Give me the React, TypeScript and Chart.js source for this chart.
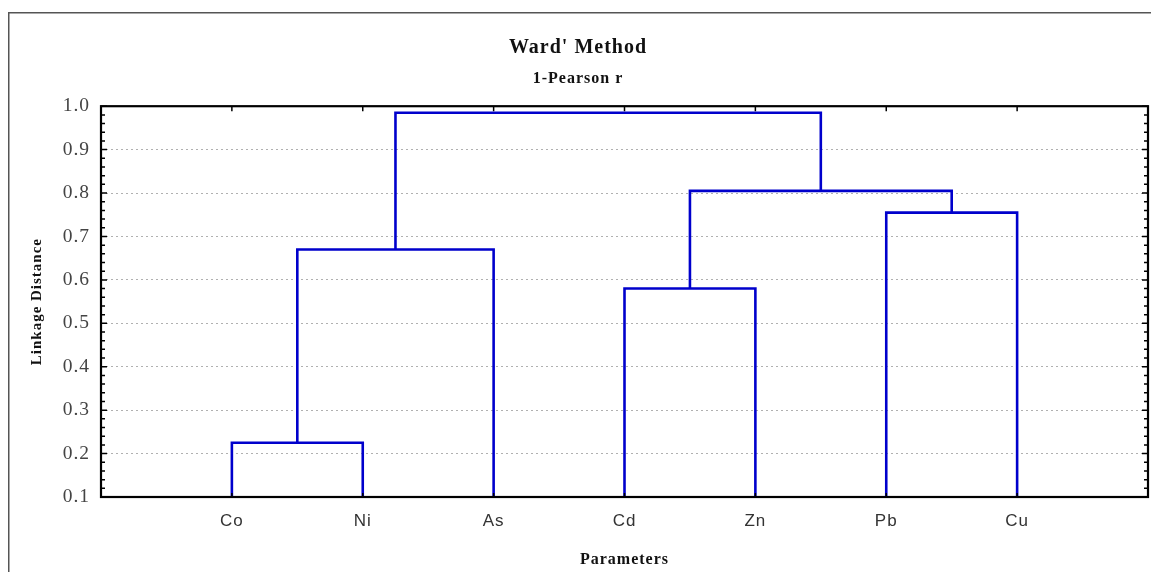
import React, { useEffect, useRef } from 'react';
import { Chart, registerables } from 'chart.js';

Chart.register(...registerables);

// ---- data ----
const categories = ['Co', 'Ni', 'As', 'Cd', 'Zn', 'Pb', 'Cu'];
// scipy-style linkage: leaves 0..6, new clusters 7..12
const mergeLeft = [0, 3, 7, 5, 8, 9];
const mergeRight = [1, 4, 2, 6, 10, 11];
const mergeHeight = [0.225, 0.58, 0.67, 0.755, 0.805, 0.985];
const baseline = 0.1;
const yMin = 0.1;
const yMax = 1.0;
const yStep = 0.1;
const yMinorStep = 0.02;

const SERIF = "'Liberation Serif', 'Times New Roman', serif";
const SANS = "'Liberation Sans', Arial, sans-serif";
const BLUE = '#0000CC';

function buildDatasets() {
  const nodeX: number[] = categories.map((_, i) => i + 1);
  const nodeH: number[] = categories.map(() => baseline);
  const datasets: any[] = [];
  mergeLeft.forEach((a, k) => {
    const b = mergeRight[k];
    const h = mergeHeight[k];
    const xa = nodeX[a];
    const xb = nodeX[b];
    datasets.push({
      label: categories[a] ? categories[a] : 'cluster',
      data: [
        { x: xa, y: nodeH[a] },
        { x: xa, y: h },
        { x: xb, y: h },
        { x: xb, y: nodeH[b] },
      ],
      showLine: true,
      borderColor: BLUE,
      backgroundColor: BLUE,
      borderWidth: 2.6,
      pointRadius: 0,
      tension: 0,
      fill: false,
      borderJoinStyle: 'miter',
    });
    nodeX.push((xa + xb) / 2);
    nodeH.push(h);
  });
  return datasets;
}

const spacingPlugin = {
  id: 'spacing',
  beforeUpdate(chart: any) {
    chart.ctx.letterSpacing = '1px';
  },
  beforeDraw(chart: any) {
    chart.ctx.letterSpacing = '1px';
  },
};

const decorPlugin = {
  id: 'decor',
  afterDraw(chart: any) {
    const { ctx, chartArea, scales } = chart;
    const { left, right, top, bottom } = chartArea;
    ctx.save();
    // outer page frame (left and top only visible)
    ctx.strokeStyle = '#555';
    ctx.lineWidth = 1.5;
    ctx.beginPath();
    ctx.moveTo(0.75, chart.height);
    ctx.lineTo(0.75, 4.75);
    ctx.lineTo(chart.width, 4.75);
    ctx.stroke();

    // inward ticks
    ctx.strokeStyle = '#000';
    ctx.lineWidth = 1.5;
    const y = scales.y;
    const nMinor = Math.round((yMax - yMin) / yMinorStep);
    for (let i = 0; i <= nMinor; i++) {
      const v = yMin + i * yMinorStep;
      const py = y.getPixelForValue(v);
      const major = i % 5 === 0;
      const len = major ? 6 : 4;
      ctx.beginPath();
      ctx.moveTo(left, py);
      ctx.lineTo(left + len, py);
      ctx.moveTo(right, py);
      ctx.lineTo(right - len, py);
      ctx.stroke();
    }
    const x = scales.x;
    categories.forEach((_, i) => {
      const px = x.getPixelForValue(i + 1);
      ctx.beginPath();
      ctx.moveTo(px, top);
      ctx.lineTo(px, top + 5);
      ctx.moveTo(px, bottom);
      ctx.lineTo(px, bottom - 4);
      ctx.stroke();
    });

    // plot frame
    ctx.strokeStyle = '#000';
    ctx.lineWidth = 2.2;
    ctx.strokeRect(left, top, right - left, bottom - top);
    ctx.restore();
  },
};

export default function App() {
  const ref = useRef<HTMLCanvasElement | null>(null);

  useEffect(() => {
    document.body.style.overflow = 'hidden';
    if (!ref.current) return;
    const chart = new Chart(ref.current, {
      type: 'scatter',
      data: { datasets: buildDatasets() },
      options: {
        animation: false,
        responsive: true,
        maintainAspectRatio: false,
        layout: { padding: { top: 0, right: 11, bottom: 0, left: 0 } },
        plugins: {
          legend: { display: false },
          tooltip: { enabled: false },
          title: {
            display: true,
            text: "Ward' Method",
            color: '#111',
            font: { family: SERIF, size: 20, weight: 'bold' },
            padding: { top: 28, bottom: 4 },
          },
          subtitle: {
            display: true,
            text: '1-Pearson r',
            color: '#111',
            font: { family: SERIF, size: 16, weight: 'bold' },
            padding: { top: 5.5, bottom: 17.5 },
          },
        },
        scales: {
          x: {
            type: 'linear',
            min: 0,
            max: categories.length + 1,
            afterFit(scale: any) {
              scale.height = 75;
            },
            ticks: {
              stepSize: 1,
              autoSkip: false,
              maxRotation: 0,
              color: '#333',
              font: { family: SANS, size: 17 },
              padding: 5.8,
              callback: (v: any) => categories[Number(v) - 1] ?? '',
            },
            grid: { display: false, drawTicks: true, tickLength: 8 },
            border: { display: false },
            title: {
              display: true,
              text: 'Parameters',
              color: '#111',
              font: { family: SERIF, size: 16, weight: 'bold' },
              padding: { top: 0, bottom: 3 },
            },
          },
          y: {
            type: 'linear',
            min: yMin,
            max: yMax,
            afterFit(scale: any) {
              scale.width = 93;
            },
            ticks: {
              stepSize: yStep,
              color: '#444',
              font: { family: SERIF, size: 19.5 },
              padding: 11,
              callback: (v: any) => Number(v).toFixed(1),
            },
            grid: { color: '#b0b0b0', lineWidth: 1, drawTicks: false, tickLength: 0 },
            border: { display: false, dash: [2, 3] },
            title: {
              display: true,
              text: 'Linkage Distance',
              color: '#111',
              font: { family: SERIF, size: 15, weight: 'bold' },
              padding: { top: 20.5, bottom: 0 },
            },
          },
        },
      },
      plugins: [spacingPlugin, decorPlugin],
    });
    return () => chart.destroy();
  }, []);

  return (
    <div style={{ position: 'relative', width: 1151, height: 564, background: '#fff' }}>
      <canvas ref={ref} />
    </div>
  );
}
